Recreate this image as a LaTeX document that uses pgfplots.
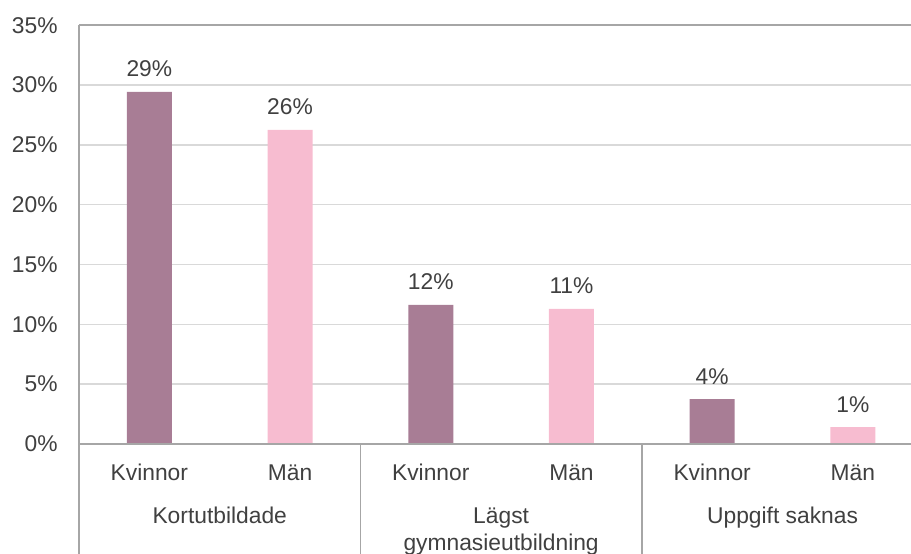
\documentclass[border=0pt]{standalone}
\usepackage{pgfplots}
\pgfplotsset{compat=1.18}
\usepackage{fontspec}
\setmainfont{Liberation Sans}
\definecolor{kv}{RGB}{168,125,149}
\definecolor{man}{RGB}{247,188,208}
\definecolor{gridc}{RGB}{217,217,217}
\definecolor{axc}{RGB}{166,166,166}
\definecolor{txt}{RGB}{64,64,64}
\begin{document}
\begin{tikzpicture}[font=\fontsize{11.4}{13.7}\selectfont, text=txt]
\begin{axis}[
 name=ax,
 scale only axis, width=416pt, height=209.35pt,
 xmin=-0.5, xmax=5.413, ymin=0, ymax=35,
 ytick={0,5,...,35},
 yticklabel={\pgfmathprintnumber{\tick}\%},
 /pgf/number format/assume math mode=true,
 ymajorgrids, grid style={gridc, line width=0.75pt},
 axis line style={draw=none},
 tick style={draw=none},
 xtick={0,...,5},
 xticklabels={Kvinnor,Män,Kvinnor,Män,Kvinnor,Män},
 xticklabel style={anchor=base, yshift=-18.5pt, text=txt},
 yticklabel style={anchor=east, xshift=-7.2pt, text=txt},
 nodes near coords={\pgfmathprintnumber[fixed,precision=0]{\pgfplotspointmeta}\%},
 nodes near coords style={anchor=base, yshift=7.5pt, text=txt},
 clip=false,
]
\addplot[ybar, bar width=22.5pt, bar shift=0pt, fill=kv, draw=none] coordinates {(0,29.43) (2,11.62) (4,3.76)};
\addplot[ybar, bar width=22.5pt, bar shift=0pt, fill=man, draw=none] coordinates {(1,26.25) (3,11.29) (5,1.42)};
\draw[axc, line width=0.9pt] (axis cs:-0.5,35) -- (axis cs:5.413,35);
\draw[axc, line width=0.9pt] (axis cs:-0.5,0) -- (axis cs:5.413,0);
\draw[axc, line width=0.9pt] (axis cs:-0.5,35) -- ([yshift=-70pt]axis cs:-0.5,0);
\draw[axc, line width=0.9pt] (axis cs:1.5,0) -- ([yshift=-70pt]axis cs:1.5,0);
\draw[axc, line width=0.9pt] (axis cs:3.5,0) -- ([yshift=-70pt]axis cs:3.5,0);
\node[anchor=base, yshift=-40pt] at (axis cs:0.5,0) {Kortutbildade};
\node[anchor=base, yshift=-40pt] at (axis cs:2.5,0) {Lägst};
\node[anchor=base, yshift=-53.5pt] at (axis cs:2.5,0) {gymnasieutbildning};
\node[anchor=base, yshift=-40pt] at (axis cs:4.5,0) {Uppgift saknas};
\end{axis}
\pgfresetboundingbox
\path[use as bounding box] ([shift={(-39.5pt,-55pt)}]ax.south west) rectangle ([shift={(0pt,12.65pt)}]ax.north east);
\end{tikzpicture}
\end{document}
